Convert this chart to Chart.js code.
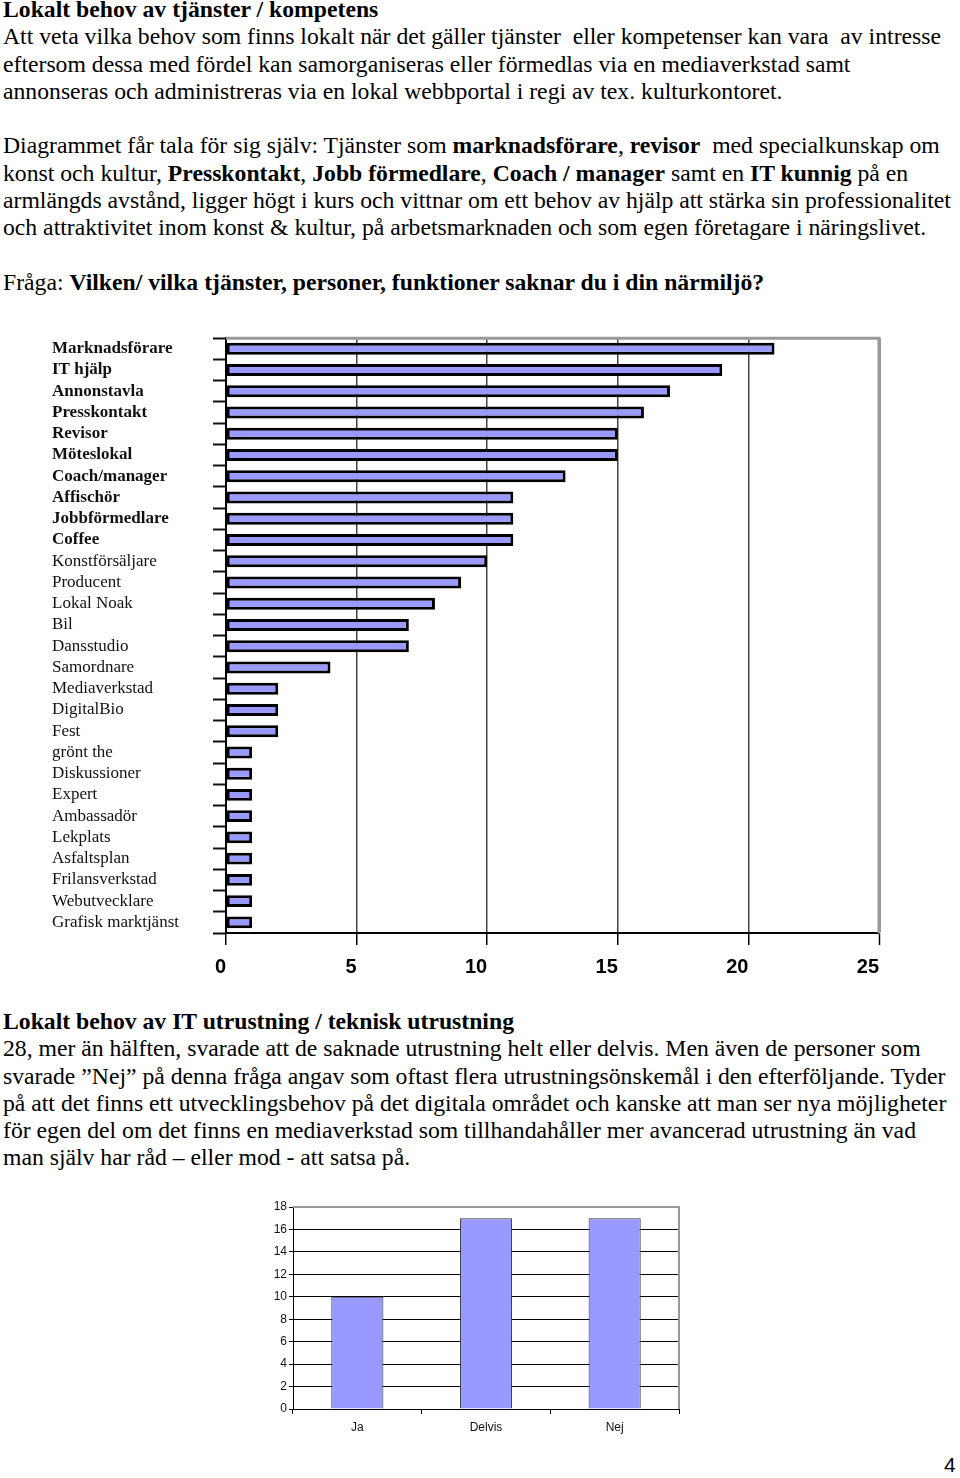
<!DOCTYPE html>
<html>
<head>
<meta charset="utf-8">
<script src="https://cdn.jsdelivr.net/npm/chart.js@4"></script>
<style>
  body { margin: 0; width: 960px; height: 1478px; background: #fff; position: relative; overflow: hidden; }
  .txt { position: absolute; left: 3px; font-family: "Liberation Serif", "Times New Roman", serif; font-size: 23.7px; line-height: 27.3px; color: #000; white-space: pre; }
  .box { position: absolute; }
  #pagenr { position: absolute; left: 944px; top: 1453px; font-family: "Liberation Sans", Arial, sans-serif; font-size: 21px; }
</style>
</head>
<body>
<div class="txt" style="top:-4px"><b>Lokalt behov av tjänster / kompetens</b>
Att veta vilka behov som finns lokalt när det gäller tjänster  eller kompetenser kan vara  av intresse
eftersom dessa med fördel kan samorganiseras eller förmedlas via en mediaverkstad samt
annonseras och administreras via en lokal webbportal i regi av tex. kulturkontoret.

Diagrammet får tala för sig själv: Tjänster som <b>marknadsförare</b>, <b>revisor</b>  med specialkunskap om
konst och kultur, <b>Presskontakt</b>, <b>Jobb förmedlare</b>, <b>Coach / manager</b> samt en <b>IT kunnig</b> på en
armlängds avstånd, ligger högt i kurs och vittnar om ett behov av hjälp att stärka sin professionalitet
och attraktivitet inom konst &amp; kultur, på arbetsmarknaden och som egen företagare i näringslivet.

Fråga: <b>Vilken/ vilka tjänster, personer, funktioner saknar du i din närmiljö?</b></div>

<div class="box" style="left:52px; top:325px; width:848px; height:665px;"><canvas id="c1"></canvas></div>

<div class="txt" style="top:1008px"><b>Lokalt behov av IT utrustning / teknisk utrustning</b>
28, mer än hälften, svarade att de saknade utrustning helt eller delvis. Men även de personer som
svarade ”Nej” på denna fråga angav som oftast flera utrustningsönskemål i den efterföljande. Tyder
på att det finns ett utvecklingsbehov på det digitala området och kanske att man ser nya möjligheter
för egen del om det finns en mediaverkstad som tillhandahåller mer avancerad utrustning än vad
man själv har råd – eller mod - att satsa på.</div>

<div class="box" style="left:240px; top:1195px; width:460px; height:250px;"><canvas id="c2"></canvas></div>

<div id="pagenr">4</div>

<script>
// tjänster / kompetens
const services = [
  "Marknadsförare", "IT hjälp", "Annonstavla", "Presskontakt", "Revisor",
  "Möteslokal", "Coach/manager", "Affischör", "Jobbförmedlare", "Coffee",
  "Konstförsäljare", "Producent", "Lokal Noak", "Bil", "Dansstudio",
  "Samordnare", "Mediaverkstad", "DigitalBio", "Fest", "grönt the",
  "Diskussioner", "Expert", "Ambassadör", "Lekplats", "Asfaltsplan",
  "Frilansverkstad", "Webutvecklare", "Grafisk marktjänst"
];
const serviceCounts = [21, 19, 17, 16, 15, 15, 13, 11, 11, 11, 10, 9, 8, 7, 7, 4, 2, 2, 2, 1, 1, 1, 1, 1, 1, 1, 1, 1];
const boldLabels = 10; // first ten labels are bold in the original
const serviceTicks = [0, 5, 10, 15, 20, 25];

// IT utrustning
const answers = ["Ja", "Delvis", "Nej"];
const answerCounts = [10, 17, 17];

const barFill = "#9999ff";

// gray frame on top and right of plot area
const frame = {
  id: "frame",
  afterDatasetsDraw(chart, args, opts) {
    const a = chart.chartArea, ctx = chart.ctx;
    ctx.save();
    ctx.strokeStyle = opts.color || "#999";
    ctx.lineWidth = opts.width || 2;
    ctx.beginPath();
    ctx.moveTo(a.left, a.top);
    ctx.lineTo(a.right, a.top);
    ctx.lineTo(a.right, a.bottom);
    ctx.stroke();
    ctx.restore();
  }
};

new Chart(document.getElementById("c1"), {
  type: "bar",
  data: {
    labels: services,
    datasets: [{
      data: serviceCounts,
      backgroundColor: barFill,
      borderColor: "#000",
      borderWidth: 3,
      borderSkipped: false,
      barPercentage: 0.56,
      categoryPercentage: 1
    }]
  },
  options: {
    indexAxis: "y",
    responsive: true,
    maintainAspectRatio: false,
    animation: false,
    layout: { padding: { top: 10, right: 21, left: 0, bottom: 0 } },
    plugins: { legend: { display: false }, tooltip: { enabled: false }, frame: { color: "#999", width: 3 } },
    scales: {
      x: {
        min: 0, max: 25,
        afterBuildTicks: s => { s.ticks = serviceTicks.map(v => ({ value: v })); },
        afterFit: s => { s.height = 57; },
        grid: {
          color: c => c.tick && c.tick.value === 25 ? "#999" : "#444",
          lineWidth: c => c.tick && c.tick.value === 25 ? 3 : 1.5,
          tickColor: "#000",
          tickWidth: 1.5,
          tickLength: 12
        },
        border: { color: "#000", width: 2 },
        ticks: {
          color: "#000",
          padding: 10,
          align: "end",
          font: { family: "'Liberation Sans Narrow', 'Liberation Sans', Arial, sans-serif", size: 20, weight: "bold" }
        }
      },
      y: {
        afterFit: s => { s.width = 174; },
        grid: { drawOnChartArea: false, tickColor: "#111", tickWidth: 2, tickLength: 13, offset: true },
        border: { color: "#000", width: 2 },
        ticks: {
          color: "#111",
          crossAlign: "far",
          autoSkip: false,
          font: c => ({
            family: "'Liberation Serif', 'Times New Roman', serif",
            size: 17,
            weight: c.index < boldLabels ? "bold" : "normal"
          })
        }
      }
    }
  },
  plugins: [frame]
});

new Chart(document.getElementById("c2"), {
  type: "bar",
  data: {
    labels: answers,
    datasets: [{
      data: answerCounts,
      backgroundColor: barFill,
      borderColor: "#333",
      borderWidth: 1,
      barPercentage: 0.405,
      categoryPercentage: 1
    }]
  },
  options: {
    responsive: true,
    maintainAspectRatio: false,
    animation: false,
    layout: { padding: { top: 12, right: 21, left: 0, bottom: 0 } },
    plugins: { legend: { display: false }, tooltip: { enabled: false }, frame: { color: "#999", width: 2 } },
    scales: {
      x: {
        afterFit: s => { s.height = 36; },
        grid: { drawOnChartArea: false, tickColor: "#000", tickLength: 5, offset: true },
        border: { color: "#000", width: 1 },
        ticks: { color: "#111", padding: 6, font: { family: "'Liberation Sans', Arial, sans-serif", size: 12 } }
      },
      y: {
        min: 0, max: 18,
        afterFit: s => { s.width = 53; },
        grid: {
          color: c => c.tick && c.tick.value === 18 ? "#999" : "#000",
          lineWidth: 1,
          tickColor: "#000",
          tickLength: 4
        },
        border: { color: "#000", width: 1 },
        ticks: { stepSize: 2, color: "#111", padding: 2, font: { family: "'Liberation Sans', Arial, sans-serif", size: 12 } }
      }
    }
  },
  plugins: [frame]
});
</script>
</body>
</html>
